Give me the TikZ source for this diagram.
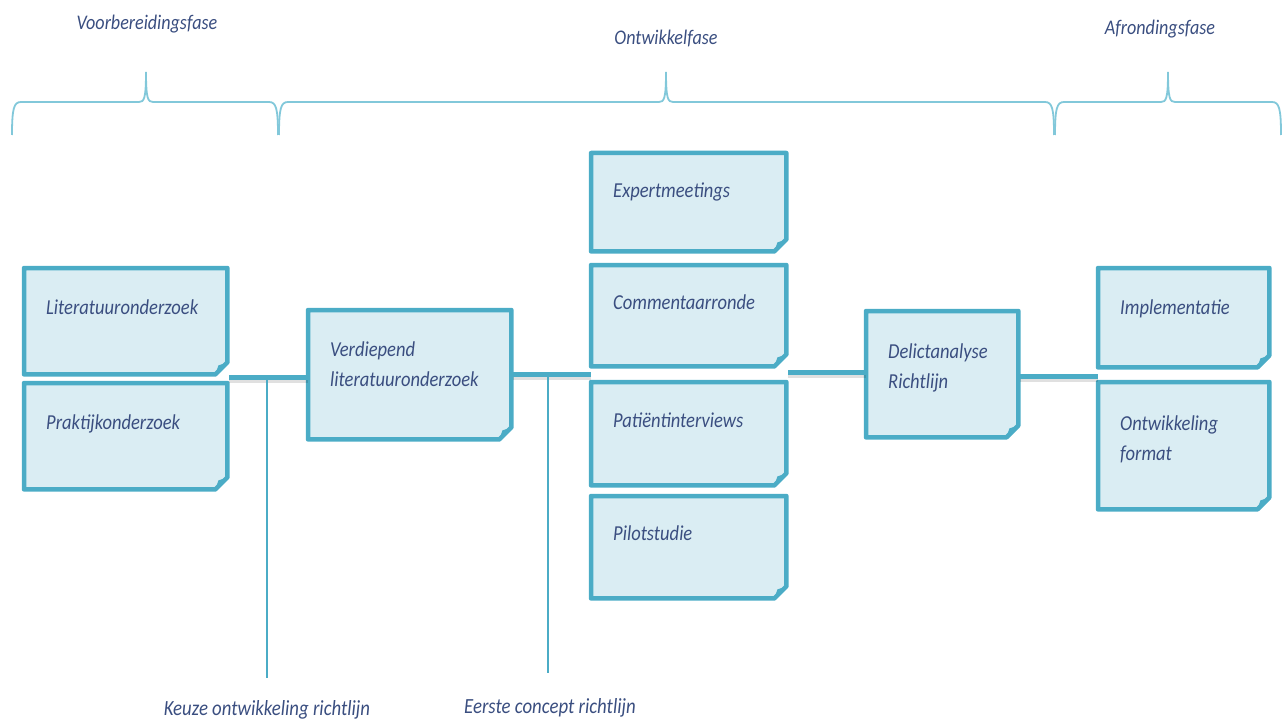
\documentclass[tikz,border=0pt]{standalone}
\usepackage{fontspec}
\setmainfont{Carlito}
\usetikzlibrary{backgrounds,calc}
\definecolor{lineblue}{RGB}{75,172,198}
\definecolor{boxfill}{RGB}{218,237,243}
\definecolor{bracecol}{RGB}{130,200,218}
\definecolor{txtcol}{RGB}{58,78,128}
\newcommand{\sq}[1]{\scalebox{0.87}[1]{\begin{tabular}[b]{@{}l@{}}#1\end{tabular}}}
\newcommand{\sqc}[1]{\scalebox{0.87}[1]{#1}}
\tikzset{
  boxtext/.style={anchor=base west, inner sep=0pt, text=txtcol,
    font=\fontsize{21.3}{29.5}\selectfont\itshape},
  phase/.style={anchor=base, inner sep=0pt, text=txtcol, font=\fontsize{20.8}{24}\selectfont\itshape},
  mile/.style={anchor=base, inner sep=0pt, text=txtcol, font=\fontsize{21.6}{24}\selectfont\itshape},
  boxarea/.style={draw=none, inner sep=0pt, anchor=north west},
  boxborder/.style={draw=lineblue, line width=4.5pt, fill=boxfill, line join=round},
  link/.style={draw=lineblue, line width=5pt},
  linkshadow/.style={draw=black, opacity=0.12, line width=5pt},
  thin/.style={draw=lineblue, line width=1.4pt},
  bracestyle/.style={draw=bracecol, line width=1.8pt}
}
% name x1 y1 x2 y2 text baseline-offset(last line)
\newcommand{\mybox}[7]{%
  \node[boxarea, minimum width={(#4-#2)*1pt}, minimum height={(#5-#3)*1pt}] (#1) at (#2,#3) {};
  \node[boxtext] (#1t) at (#2+22,#3+#7) {\sq{#6}};
}
\newcommand{\mybrace}[3]{% xl xm xr
  \draw[bracestyle] (#1,135) .. controls (#1,108) and (#1+2,102) .. (#1+9,102)
    -- (#2-7,102) .. controls (#2-2,102) and (#2,99) .. (#2,72)
    .. controls (#2,99) and (#2+2,102) .. (#2+7,102)
    -- (#3-9,102) .. controls (#3-2,102) and (#3,108) .. (#3,135);
}
\begin{document}
\begin{tikzpicture}[x=1pt,y=-1pt]
\useasboundingbox (0,0) rectangle (1284,722);
\mybox{lit}{24}{268}{227}{374}{Literatuuronderzoek}{46}
\mybox{prak}{24}{383}{227}{489}{Praktijkonderzoek}{46}
\mybox{verd}{308}{310}{511}{439}{Verdiepend\\literatuuronderzoek}{76}
\mybox{exp}{591}{153}{786}{251}{Expertmeetings}{44}
\mybox{com}{591}{265}{786}{366}{Commentaarronde}{44}
\mybox{pat}{591}{382}{786}{485}{Patiëntinterviews}{45}
\mybox{pil}{591}{496}{786}{598}{Pilotstudie}{44}
\mybox{del}{866}{311}{1018}{437}{Delictanalyse\\Richtlijn}{77}
\mybox{imp}{1098}{268}{1269}{367}{Implementatie}{46}
\mybox{ont}{1098}{382}{1269}{509}{Ontwikkeling\\format}{78}
\begin{scope}[on background layer]
\foreach \n in {lit,prak,verd,exp,com,pat,pil,del,imp,ont}{
  \draw[boxborder] (\n.north west) -- (\n.north east) -- ([yshift=12pt]\n.south east)
    -- ([xshift=-12pt]\n.south east) -- (\n.south west) -- cycle;
  \fill[lineblue] ([yshift=12pt]\n.south east) -- ([xshift=-12pt]\n.south east)
    .. controls ([xshift=-10pt,yshift=6pt]\n.south east) .. ([xshift=-9pt,yshift=9pt]\n.south east)
    .. controls ([xshift=-6pt,yshift=10pt]\n.south east) .. cycle;
}
\end{scope}
% connectors
\coordinate (j1) at (229,377);
\coordinate (j2) at (513,374);
\coordinate (j3) at (788,372);
\coordinate (j4) at (1020,376);
\begin{scope}[on background layer]
\draw[linkshadow] ([yshift=-3pt]j1) -- ([yshift=-3pt]j1 -| verd.west);
\draw[linkshadow] ([yshift=-3pt]j2) -- ([yshift=-3pt]j2 -| pat.west);
\draw[linkshadow] ([yshift=-3pt]j3) -- ([yshift=-3pt]j3 -| del.west);
\draw[linkshadow] ([yshift=-3pt]j4) -- ([yshift=-3pt]j4 -| ont.west);
\end{scope}
\draw[link] (j1) -- (j1 -| verd.west);
\draw[link] (j2) -- (j2 -| pat.west);
\draw[link] (j3) -- (j3 -| del.west);
\draw[link] (j4) -- (j4 -| ont.west);
% milestones
\node[mile] (m1) at (267,715) {\sqc{Keuze ontwikkeling richtlijn}};
\node[mile] (m2) at (550,713) {\sqc{Eerste concept richtlijn}};
\coordinate (t1) at (267,379);
\coordinate (t2) at (548,376);
\draw[thin] (t1) -- (t1 |- 0,678);
\draw[thin] (t2) -- (t2 |- 0,673);
% phases
\node[phase] (p1) at (147,30) {\sqc{Voorbereidingsfase}};
\node[phase] (p2) at (666,45) {\sqc{Ontwikkelfase}};
\node[phase] (p3) at (1160,35) {\sqc{Afrondingsfase}};
\mybrace{12}{146}{278}
\mybrace{279}{666}{1054}
\mybrace{1055}{1168}{1281}
\end{tikzpicture}
\end{document}
